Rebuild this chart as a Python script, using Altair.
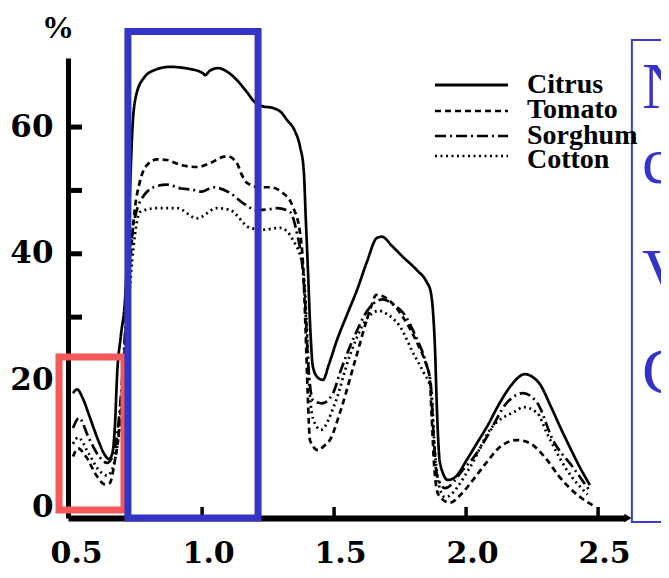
import altair as alt
import pandas as pd

crops = ["Citrus", "Tomato", "Sorghum", "Cotton"]

citrus_x = [0.511, 0.526, 0.550, 0.572, 0.609, 0.632, 0.647, 0.660, 0.670, 0.678, 0.692, 0.708, 0.722,
            0.738, 0.750, 0.780, 0.820, 0.878, 0.950, 1.003, 1.011, 1.030, 1.060, 1.100, 1.132, 1.170,
            1.200, 1.227, 1.269, 1.300, 1.322, 1.350, 1.371, 1.385, 1.393, 1.401, 1.410, 1.420, 1.440,
            1.458, 1.480, 1.511, 1.550, 1.587, 1.625, 1.662, 1.681, 1.720, 1.761, 1.814, 1.850, 1.866,
            1.875, 1.882, 1.890, 1.901, 1.931, 1.960, 2.003, 2.041, 2.079, 2.128, 2.170, 2.223, 2.260,
            2.280, 2.320, 2.356, 2.395, 2.431, 2.469]
citrus_y = [18.0, 18.6, 17.0, 14.5, 10.3, 8.2, 7.6, 8.5, 13.0, 20.9, 27.0, 32.7, 45.0,
            61.1, 65.0, 67.8, 69.0, 69.5, 69.2, 68.5, 68.2, 68.9, 69.3, 68.6, 67.4, 65.5,
            63.9, 63.3, 63.0, 62.3, 61.1, 59.5, 56.9, 53.2, 45.3, 37.4, 28.0, 22.1, 20.4,
            20.1, 22.5, 26.4, 30.5, 34.3, 38.8, 42.5, 42.7, 41.2, 39.5, 37.4, 35.6, 34.0,
            30.7, 25.3, 14.9, 7.0, 4.3, 4.8, 7.5, 10.1, 12.7, 16.5, 19.2, 21.0, 20.3,
            19.4, 16.0, 12.7, 9.3, 6.3, 3.5]

tomato_x = [0.511, 0.530, 0.560, 0.600, 0.632, 0.650, 0.668, 0.685, 0.700, 0.715, 0.730, 0.745, 0.765,
            0.791, 0.830, 0.867, 0.920, 0.981, 1.030, 1.079, 1.095, 1.132, 1.150, 1.170, 1.219, 1.257,
            1.306, 1.344, 1.371, 1.382, 1.392, 1.400, 1.409, 1.439, 1.465, 1.484, 1.522, 1.580, 1.636,
            1.660, 1.690, 1.761, 1.814, 1.845, 1.862, 1.870, 1.880, 1.895, 1.939, 1.980, 2.026, 2.080,
            2.128, 2.193, 2.242, 2.306, 2.350, 2.420, 2.480]
tomato_y = [8.0, 9.3, 8.0, 5.0, 3.6, 3.8, 7.0, 12.0, 20.0, 31.0, 40.0, 47.0, 51.5,
            54.0, 54.9, 54.8, 54.0, 53.7, 54.3, 55.3, 55.4, 54.3, 52.5, 51.2, 50.5, 50.5,
            49.6, 47.4, 43.3, 38.5, 28.0, 18.0, 10.5, 9.0, 9.8, 10.6, 14.9, 23.2, 31.1,
            33.5, 33.2, 30.0, 26.0, 23.0, 20.5, 14.0, 6.0, 2.0, 0.7, 2.0, 4.3, 7.2,
            9.5, 10.6, 10.1, 7.5, 5.0, 2.0, 0.3]

sorghum_x = [0.511, 0.534, 0.570, 0.610, 0.640, 0.660, 0.680, 0.700, 0.720, 0.740, 0.776, 0.830, 0.867,
             0.920, 0.965, 1.000, 1.041, 1.106, 1.155, 1.208, 1.250, 1.284, 1.333, 1.359, 1.380, 1.390,
             1.401, 1.420, 1.454, 1.496, 1.522, 1.571, 1.636, 1.685, 1.723, 1.761, 1.814, 1.850, 1.866,
             1.876, 1.890, 1.920, 1.988, 2.040, 2.079, 2.155, 2.215, 2.269, 2.329, 2.405, 2.470]
sorghum_y = [12.5, 14.1, 11.0, 8.0, 7.0, 8.0, 12.0, 22.0, 36.0, 44.5, 49.0, 50.7, 50.9,
             50.3, 50.1, 49.8, 50.5, 49.6, 48.0, 46.9, 47.0, 47.2, 46.6, 43.3, 38.0, 32.7,
             23.2, 16.9, 16.4, 18.0, 21.2, 26.4, 31.6, 32.8, 32.0, 30.7, 26.5, 22.5, 19.5,
             12.0, 5.0, 3.0, 5.9, 8.5, 11.1, 16.5, 18.0, 16.5, 10.6, 6.3, 2.5]

cotton_x = [0.511, 0.530, 0.570, 0.610, 0.640, 0.660, 0.680, 0.700, 0.720, 0.740, 0.765, 0.829, 0.905,
            0.981, 1.056, 1.106, 1.181, 1.231, 1.295, 1.344, 1.382, 1.395, 1.405, 1.420, 1.450, 1.500,
            1.560, 1.620, 1.670, 1.700, 1.750, 1.800, 1.840, 1.868, 1.880, 1.900, 1.920, 2.015, 2.090,
            2.193, 2.215, 2.269, 2.306, 2.380, 2.460]
cotton_y = [10.0, 11.0, 8.5, 5.8, 5.0, 6.0, 10.0, 18.0, 31.0, 41.0, 46.6, 47.2, 47.2,
            45.6, 47.2, 46.9, 44.1, 43.8, 44.1, 42.2, 37.9, 30.0, 20.0, 14.0, 12.2, 16.0,
            24.0, 29.5, 31.0, 30.5, 28.5, 24.3, 21.2, 18.5, 10.0, 3.0, 1.6, 6.3, 12.2,
            15.3, 15.8, 14.9, 11.7, 6.0, 2.0]

y_label_values = [0, 20, 40, 60]
y_tick_values = [30, 40, 50, 60]
x_label_values = [0.5, 1.0, 1.5, 2.0, 2.5]
x_tick_values = [1.0, 1.5, 2.0, 2.5]

# highlighted wavelength bands (µm) and reflectance span (%)
bands = pd.DataFrame({
    "w": [0.458, 0.719], "w2": [0.704, 1.212],
    "r": [-0.44, -1.7], "r2": [23.7, 75.1],
    "col": ["#F45858", "#3434C6"],
})
box = pd.DataFrame({"w": [2.628], "w2": [2.80], "r": [-2.33], "r2": [73.74]})
box_letters = ["N", "c", "V", "C"]

rows = []
for name, xs_, ys_ in zip(crops, [citrus_x, tomato_x, sorghum_x, cotton_x],
                          [citrus_y, tomato_y, sorghum_y, cotton_y]):
    for a, b in zip(xs_, ys_):
        rows.append({"crop": name, "w": a, "r": b})
df = pd.DataFrame(rows)

dashes = [[1, 0], [6, 4], [11, 4, 2, 4], [2, 3.5]]
XS = alt.Scale(domain=[0.492, 2.602], nice=False, zero=False)
YS = alt.Scale(domain=[-1.7, 70.9], nice=False, zero=False)
SERIF = "DejaVu Serif"

XA = alt.Axis(values=x_label_values, format=".1f", title=None, grid=False, ticks=False, tickSize=0,
              domainWidth=6, domainColor="black", labelFont=SERIF, labelFontWeight="bold",
              labelFontSize=30, labelColor="black", labelPadding=44, labelBaseline="alphabetic",
              labelOffset=6, labelFlush=False, labelOverlap=False)
YA = alt.Axis(values=y_label_values, title=None, grid=False, ticks=False, tickSize=0,
              domainWidth=5, domainColor="black", labelFont=SERIF, labelFontWeight="bold",
              labelFontSize=31, labelColor="black", labelPadding=15, labelBaseline="middle",
              labelFlush=False, labelOverlap=False)

lines = alt.Chart(df).mark_line(color="black", strokeWidth=2.7, interpolate="monotone").encode(
    x=alt.X("w:Q", scale=XS, axis=XA, title=None),
    y=alt.Y("r:Q", scale=YS, axis=YA, title=None),
    strokeDash=alt.StrokeDash("crop:N", scale=alt.Scale(domain=crops, range=dashes), legend=None),
    detail="crop:N",
)

ytick = alt.Chart(pd.DataFrame({"r": y_tick_values})).mark_rule(color="black", strokeWidth=5).encode(
    y=alt.Y("r:Q", scale=YS, axis=YA, title=None), x=alt.value(0), x2=alt.value(14))
xtick = alt.Chart(pd.DataFrame({"w": x_tick_values})).mark_rule(color="black", strokeWidth=3.5).encode(
    x=alt.X("w:Q", scale=XS, axis=XA, title=None), y=alt.value(460), y2=alt.value(449))
arrow = alt.Chart(pd.DataFrame({"k": [0]})).mark_point(
    shape="triangle-right", filled=True, color="black", size=70, opacity=1).encode(
    x=alt.value(560), y=alt.value(460))

rects = alt.Chart(bands).mark_rect(fillOpacity=0, strokeWidth=7).encode(
    x=alt.X("w:Q", scale=XS, axis=XA, title=None), x2="w2:Q",
    y=alt.Y("r:Q", scale=YS, axis=YA, title=None), y2="r2:Q",
    stroke=alt.Stroke("col:N", scale=None))

boxrect = alt.Chart(box).mark_rect(fillOpacity=0, stroke="#3B3BD0", strokeWidth=2).encode(
    x=alt.X("w:Q", scale=XS, axis=XA, title=None), x2="w2:Q",
    y=alt.Y("r:Q", scale=YS, axis=YA, title=None), y2="r2:Q")

layers = [lines, ytick, xtick, arrow, rects, boxrect]

# legend
leg_line_y = [27, 53, 78, 98]
leg_text_y = [35, 60, 86, 110]
for i, c in enumerate(crops):
    layers.append(alt.Chart(pd.DataFrame({"crop": [c]})).mark_rule(
        color="black", strokeWidth=3 if i == 0 else 2.7, strokeDash=dashes[i]).encode(
        x=alt.value(367), x2=alt.value(440), y=alt.value(leg_line_y[i])))
    layers.append(alt.Chart(pd.DataFrame({"crop": [c]})).mark_text(
        align="left", baseline="alphabetic", font="Liberation Serif", fontWeight="bold",
        fontSize=28, color="black").encode(
        x=alt.value(459), y=alt.value(leg_text_y[i]), text="crop:N"))

# text box letters (cut off at the right edge)
letter_y = [50, 125, 236, 335]
for t, yy in zip(box_letters, letter_y):
    layers.append(alt.Chart(pd.DataFrame({"t": [t]})).mark_text(
        align="left", baseline="alphabetic", font="Liberation Serif", fontSize=66,
        color="#3333CC").encode(x=alt.value(574), y=alt.value(yy), text="t:N"))

# unit labels
layers.append(alt.Chart(pd.DataFrame({"t": ["%"]})).mark_text(
    align="center", baseline="alphabetic", font="Liberation Serif", fontWeight="bold",
    fontSize=32, color="black").encode(x=alt.value(-10), y=alt.value(-20), text="t:N"))
layers.append(alt.Chart(pd.DataFrame({"t": ["µm"]})).mark_text(
    align="left", baseline="alphabetic", font="Liberation Serif", fontStyle="italic",
    fontSize=22, color="black").encode(x=alt.value(562), y=alt.value(522), text="t:N"))

chart = alt.layer(*layers).properties(
    width=557, height=460,
    autosize=alt.AutoSizeParams(type="none"),
    padding={"left": 60, "top": 50, "right": 36, "bottom": 52},
    background="white",
).configure_view(strokeWidth=0)

chart.save("out.html", embed_options={"renderer": "svg", "actions": False})
